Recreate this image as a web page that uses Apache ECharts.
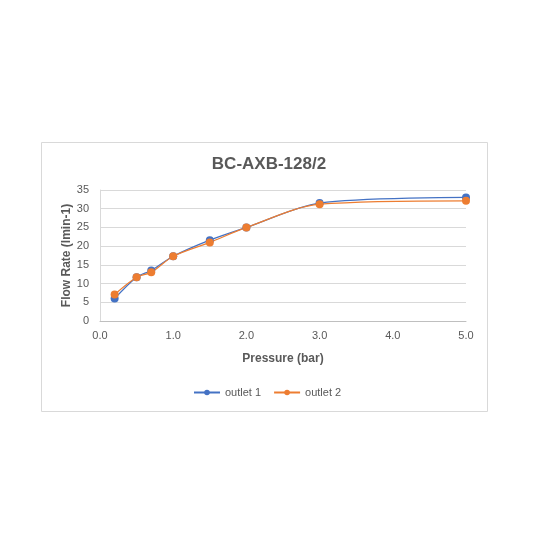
<!DOCTYPE html>
<html>
<head>
<meta charset="utf-8">
<script src="https://cdn.jsdelivr.net/npm/echarts@6/dist/echarts.min.js"></script>
<style>
html,body{margin:0;padding:0;background:#fff;}
#main{width:552px;height:559px;}
</style>
</head>
<body>
<div id="main"></div>
<script>
const titleText = 'BC-AXB-128/2';
const pressure = [0.2, 0.5, 0.7, 1.0, 1.5, 2.0, 3.0, 5.0];
const outlet1 = [6.0, 11.7, 13.5, 17.3, 21.6, 25.0, 31.5, 33.0];
const outlet2 = [7.1, 11.7, 13.0, 17.3, 21.0, 25.0, 31.2, 32.1];
const seriesNames = ['outlet 1', 'outlet 2'];
const xName = 'Pressure (bar)';
const yName = 'Flow Rate (lmin-1)';

const pairs = (xs, ys) => xs.map((x, i) => [x, ys[i]]);
const font = 'Liberation Sans, Arial, sans-serif';
const txt = '#595959';

const chart = echarts.init(document.getElementById('main'), null, {renderer: 'canvas'});
chart.setOption({
  animation: false,
  backgroundColor: '#fff',
  textStyle: {fontFamily: font},
  graphic: [{
    type: 'rect', left: 41, top: 142, z: -1,
    shape: {width: 446, height: 269},
    style: {fill: '#fff', stroke: '#d9d9d9', lineWidth: 1}
  }],
  title: {
    text: titleText, left: 264, top: 151, textAlign: 'center',
    textStyle: {fontFamily: font, fontSize: 17, fontWeight: 'bold', color: txt}
  },
  legend: {
    left: 188, top: 382, itemWidth: 26, itemHeight: 7, itemGap: 12,
    textStyle: {fontFamily: font, fontSize: 11, color: txt},
    data: seriesNames
  },
  grid: {left: 100, right: 86, top: 190, bottom: 238, containLabel: false},
  xAxis: {
    type: 'value', min: 0, max: 5, interval: 1,
    name: xName, nameLocation: 'middle', nameGap: 32, nameMoveOverlap: false,
    nameTextStyle: {fontFamily: font, fontSize: 12, fontWeight: 'bold', color: txt},
    axisLine: {show: true, lineStyle: {color: '#bfbfbf', width: 1}},
    axisTick: {show: false},
    splitLine: {show: false},
    axisLabel: {margin: 9, fontSize: 11, color: txt, fontFamily: font,
      formatter: v => v.toFixed(1)}
  },
  yAxis: {
    type: 'value', min: 0, max: 35, interval: 5,
    name: yName, nameLocation: 'middle', nameGap: 27, nameRotate: 90, nameMoveOverlap: false,
    nameTextStyle: {fontFamily: font, fontSize: 12, fontWeight: 'bold', color: txt},
    axisLine: {show: true, lineStyle: {color: '#d9d9d9', width: 1}},
    axisTick: {show: false},
    splitLine: {show: true, lineStyle: {color: '#d9d9d9', width: 1}},
    axisLabel: {margin: 11, fontSize: 11, color: txt, fontFamily: font}
  },
  series: [
    {
      name: seriesNames[0], type: 'line', smooth: 0.3,
      data: pairs(pressure, outlet1),
      symbol: 'circle', symbolSize: 8,
      itemStyle: {color: '#4472C4'},
      lineStyle: {color: '#4472C4', width: 1.25}
    },
    {
      name: seriesNames[1], type: 'line', smooth: 0.3,
      data: pairs(pressure, outlet2),
      symbol: 'circle', symbolSize: 8,
      itemStyle: {color: '#ED7D31'},
      lineStyle: {color: '#ED7D31', width: 1.25}
    }
  ]
});
</script>
</body>
</html>
